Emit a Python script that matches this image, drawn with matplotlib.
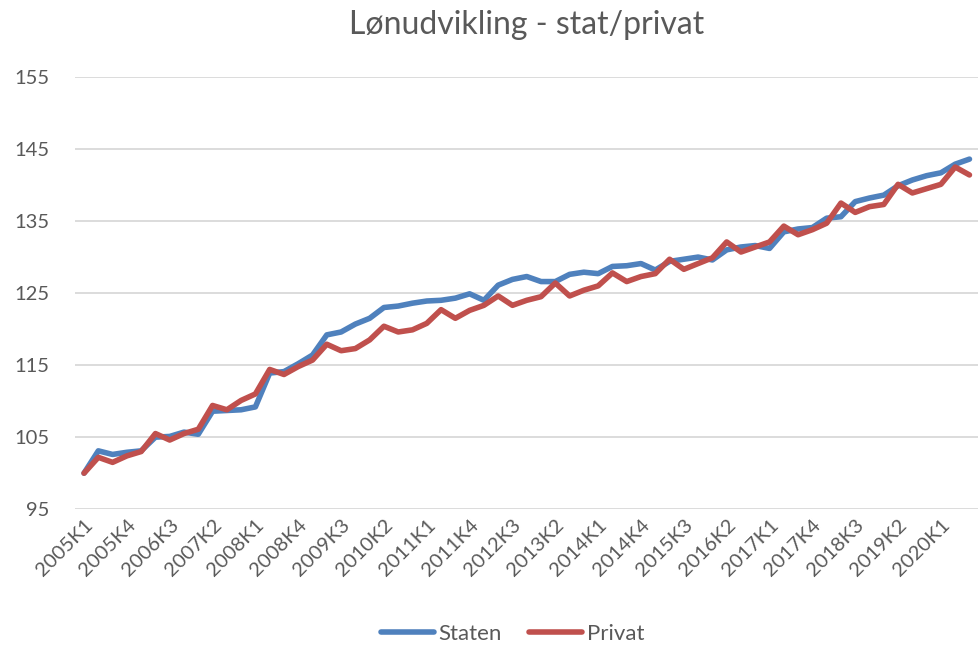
import matplotlib
matplotlib.use('Agg')
import matplotlib.pyplot as plt
import numpy as np

# Kvartaler 2005K1 - 2020K3
years = range(2005, 2021)
quarters = [f'{y}K{q}' for y in years for q in range(1, 5)][:63]

staten = [100.0, 103.1, 102.6, 102.9, 103.1, 105.0, 105.1, 105.7, 105.4, 108.6,
          108.7, 108.8, 109.2, 113.9, 114.1, 115.2, 116.4, 119.2, 119.6, 120.7,
          121.5, 123.0, 123.2, 123.6, 123.9, 124.0, 124.3, 124.9, 124.0, 126.1,
          126.9, 127.3, 126.6, 126.6, 127.6, 127.9, 127.7, 128.7, 128.8, 129.1,
          128.2, 129.4, 129.7, 130.0, 129.6, 131.0, 131.4, 131.6, 131.2, 133.5,
          133.9, 134.1, 135.4, 135.6, 137.7, 138.2, 138.6, 139.9, 140.7, 141.3,
          141.7, 142.9, 143.6]

privat = [100.0, 102.2, 101.5, 102.4, 103.0, 105.5, 104.6, 105.5, 106.1, 109.4,
          108.8, 110.1, 111.0, 114.4, 113.7, 114.8, 115.7, 117.9, 117.0, 117.3,
          118.5, 120.4, 119.6, 119.9, 120.8, 122.7, 121.5, 122.6, 123.3, 124.6,
          123.3, 124.0, 124.5, 126.4, 124.6, 125.4, 126.0, 127.8, 126.6, 127.3,
          127.7, 129.7, 128.3, 129.1, 129.9, 132.1, 130.7, 131.4, 132.1, 134.3,
          133.1, 133.8, 134.7, 137.5, 136.2, 137.0, 137.3, 140.1, 138.9, 139.5,
          140.1, 142.5, 141.4]

plt.rcParams['font.family'] = ['Lato', 'DejaVu Sans']
grey = '#595959'

fig = plt.figure(figsize=(9.8, 6.47), dpi=100)
ax = fig.add_axes([0.077, 0.213, 0.921, 0.668])

x = np.arange(len(quarters))
ax.plot(x, staten, color='#4F81BD', lw=4, label='Staten', solid_capstyle='round')
ax.plot(x, privat, color='#C0504D', lw=4, label='Privat', solid_capstyle='round')

ax.set_ylim(95, 155)
ax.set_yticks(range(95, 156, 10))
ax.set_xlim(-0.6, len(quarters) - 0.4)
ax.set_xticks(x[::3])
ax.set_xticklabels(quarters[::3], rotation=45, ha='right', rotation_mode='anchor')

ax.grid(axis='y', color='#D9D9D9', lw=1.3)
ax.set_axisbelow(True)
for s in ax.spines.values():
    s.set_visible(False)
ax.tick_params(length=0, colors=grey, labelsize=14.5)
ax.tick_params(axis='y', pad=19)
ax.tick_params(axis='x', pad=5)

ax.set_title('Lønudvikling - stat/privat', fontsize=23, color=grey, pad=31)

fig.legend(loc='lower center', bbox_to_anchor=(0.523, -0.026), ncol=2, frameon=False,
           fontsize=16, labelcolor=grey, handlelength=2.4, handletextpad=0.2,
           columnspacing=1.2)

fig.savefig('out.png', dpi=100)
